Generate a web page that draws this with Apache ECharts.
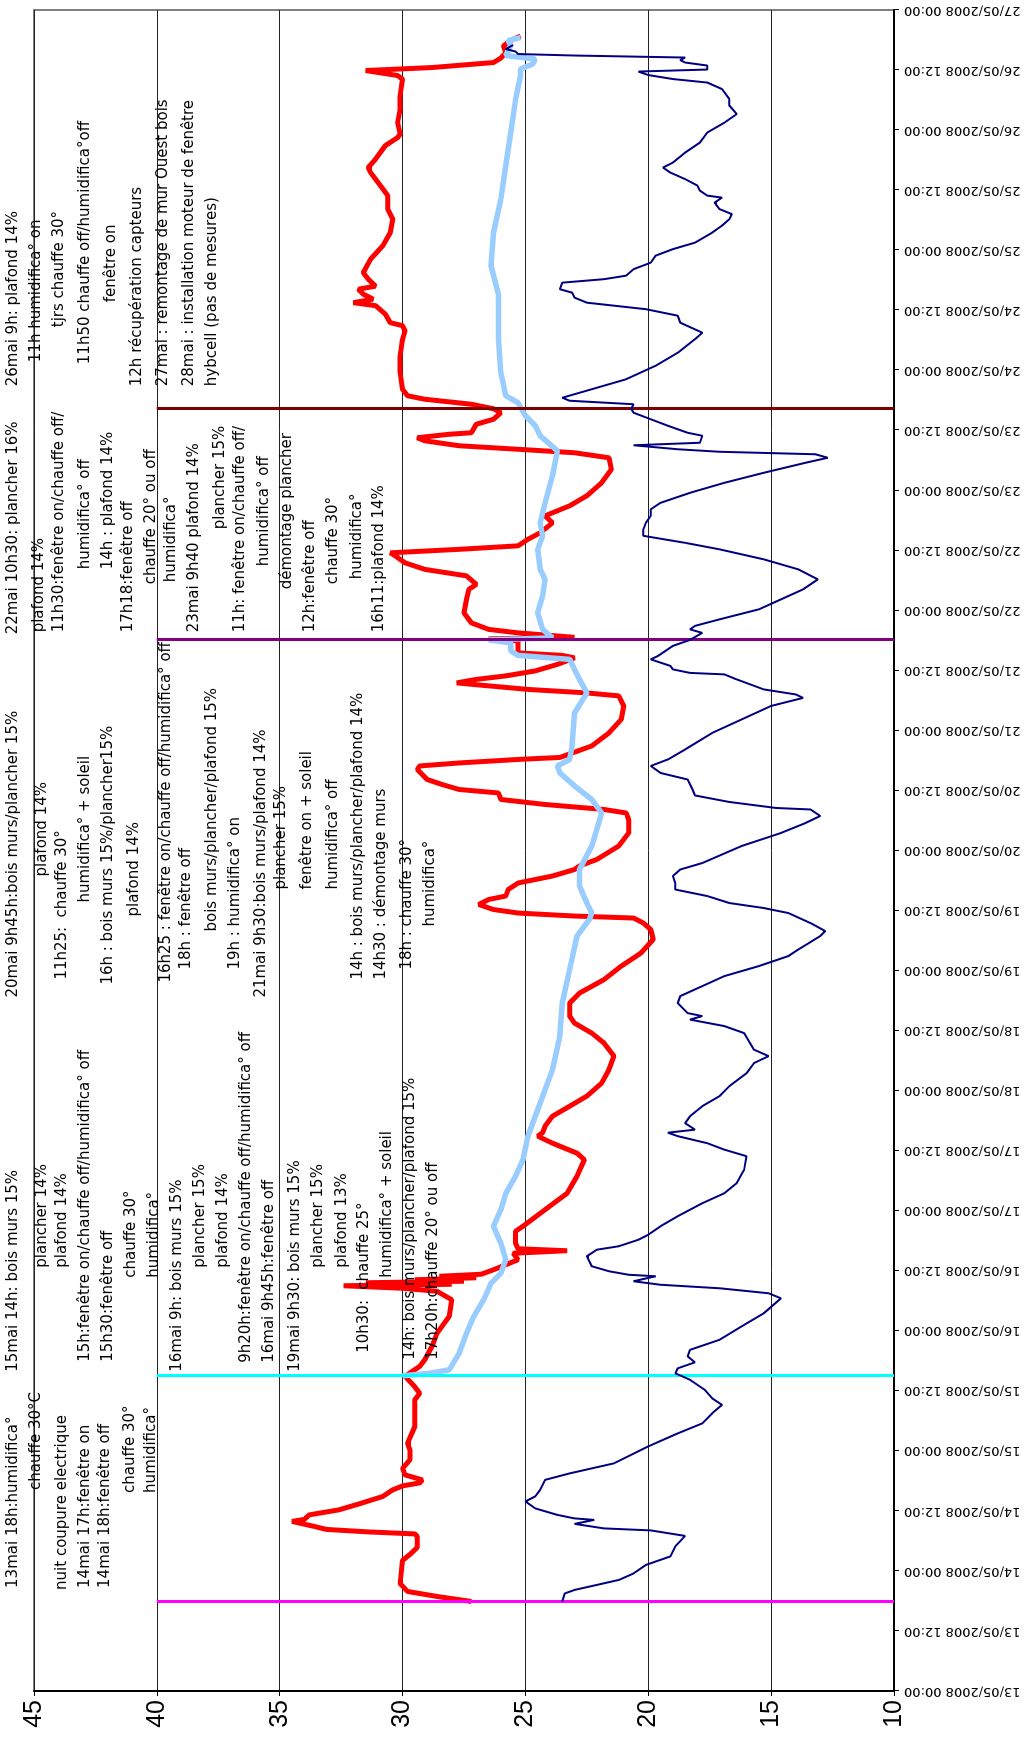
<!DOCTYPE html>
<html>
<head>
<meta charset="utf-8">
<script src="https://cdn.jsdelivr.net/npm/echarts/dist/echarts.min.js"></script>
<style>
  html, body { margin: 0; padding: 0; background: #fff; overflow: hidden; }
  body { width: 1025px; height: 1746px; position: relative; }
  /* the chart is drawn landscape, then turned a quarter turn like the original sheet */
  #box {
    position: absolute; left: 0; top: 0;
    width: 1746px; height: 1025px;
    transform-origin: 0 0;
    transform: translateY(1746px) rotate(-90deg);
  }
</style>
</head>
<body>
<div id="box"></div>
<script>
// hours counted from 13/05/2008 00:00
const tickHours = [0, 336, 12]            // min, max, step of the date axis
const valueTicks = [10, 45, 5]            // min, max, step of the value axis

// [hour, value]
const redLine = [[17.9,27.2],[18.9,28.6],[19.9,29.8],[21.5,30.1],[26.1,30.0],[27.3,29.7],[28.7,29.4],[30.9,29.4],[31.4,29.5],[31.8,31.4],[32.3,33.1],[32.9,33.6],[33.9,34.5],[34.3,34.0],[35.2,33.8],[36.2,32.6],[37.5,31.7],[38.9,30.8],[40.2,30.4],[41.0,30.0],[41.6,29.3],[42.2,29.2],[43.2,29.9],[44.5,30.0],[46.2,29.7],[48.2,29.7],[49.5,29.8],[52.9,29.5],[55.5,29.5],[58.2,29.5],[59.5,29.3],[60.8,29.5],[62.9,29.9],[64.9,29.3],[66.2,29.1],[68.9,28.8],[71.5,28.6],[74.9,28.1],[78.2,28.0],[79.9,28.6],[80.5,30.0],[81.0,32.4],[81.3,28.0],[81.6,31.5],[81.9,27.5],[82.2,29.5],[82.6,27.0],[82.9,28.5],[83.3,26.8],[84.2,26.3],[86.2,25.3],[87.5,25.5],[88.0,23.3],[88.4,25.3],[89.5,25.4],[91.9,25.4],[92.9,25.1],[96.2,24.2],[99.5,23.3],[102.9,22.9],[106.2,22.6],[107.5,22.9],[109.5,23.9],[110.9,24.5],[111.6,24.3],[112.9,24.2],[114.9,23.9],[116.9,23.2],[118.9,22.5],[121.5,21.9],[124.2,21.6],[126.9,21.4],[129.5,21.8],[131.5,22.3],[133.5,23.0],[134.9,23.2],[137.5,23.2],[139.5,22.8],[142.2,21.8],[144.9,21.1],[147.5,20.3],[150.2,19.8],[152.2,19.9],[153.5,20.2],[154.5,20.6],[154.9,23.0],[155.5,25.3],[156.2,26.3],[157.2,26.9],[158.2,26.5],[158.9,25.8],[160.2,25.7],[161.5,25.3],[162.9,23.9],[164.2,23.0],[164.9,22.8],[166.2,22.1],[168.9,21.2],[171.5,20.8],[174.2,20.8],[175.5,20.9],[176.2,21.8],[177.2,24.2],[178.2,26.0],[179.5,26.1],[180.2,27.7],[181.2,28.4],[182.2,29.0],[184.2,29.4],[184.9,29.3],[185.5,27.7],[186.2,25.3],[186.6,23.6],[188.9,22.3],[191.5,21.6],[194.2,21.1],[196.9,21.0],[198.9,21.2],[199.5,22.5],[200.2,24.9],[201.0,26.7],[201.5,27.8],[202.2,27.0],[202.9,25.8],[203.9,24.6],[205.2,23.7],[206.5,23.0],[207.0,23.5],[207.5,25.3],[209.9,25.3],[210.3,26.5],[210.6,23.0],[211.0,24.0],[211.5,25.3],[212.2,26.5],[213.5,27.2],[215.5,27.5],[218.2,27.4],[220.2,27.3],[221.2,27.0],[222.9,27.4],[224.2,29.1],[225.5,29.9],[226.9,30.3],[227.5,30.5],[228.2,27.7],[228.9,25.3],[230.2,24.9],[231.5,24.4],[233.5,23.9],[234.9,24.2],[236.9,23.2],[238.9,22.5],[241.5,21.9],[244.2,21.5],[246.5,21.6],[247.5,23.0],[248.2,25.3],[248.9,27.7],[249.9,29.1],[250.5,29.4],[251.2,28.1],[251.5,27.2],[253.2,27.0],[254.2,26.3],[255.5,26.0],[256.3,26.3],[257.2,27.2],[258.2,29.1],[258.9,29.8],[260.2,30.0],[263.5,30.1],[266.9,30.1],[270.2,30.0],[271.9,29.9],[272.9,30.0],[273.5,30.5],[275.2,30.7],[276.9,31.1],[277.5,32.0],[278.2,31.2],[279.2,31.6],[280.2,31.8],[280.8,31.1],[282.2,31.4],[283.5,31.6],[286.2,31.3],[288.9,30.8],[291.5,30.5],[294.2,30.4],[296.2,30.6],[298.9,30.6],[300.2,30.8],[302.2,31.1],[303.5,31.3],[304.5,31.4],[306.2,31.1],[308.9,30.7],[310.5,30.2],[311.2,30.1],[313.5,30.2],[316.2,30.1],[318.9,30.1],[322.2,30.0],[322.9,30.2],[323.9,31.5],[324.2,31.5],[324.5,28.8],[325.5,26.3],[326.4,26.0],[327.5,25.8],[328.8,25.9],[329.9,25.6],[330.8,25.2]]

const blueLine = [[63.0,30.0],[63.5,28.9],[64.2,28.1],[67.5,27.7],[71.5,27.4],[74.9,27.1],[78.2,26.7],[81.5,26.4],[83.5,26.0],[86.2,25.8],[89.5,26.0],[92.9,26.3],[96.2,26.0],[99.5,25.8],[102.9,25.4],[106.2,25.1],[110.9,24.9],[117.5,24.4],[124.2,23.9],[130.9,23.6],[137.5,23.5],[144.2,23.2],[150.9,22.9],[154.2,22.4],[155.5,22.3],[157.5,22.5],[160.9,22.8],[164.2,22.8],[168.9,22.3],[175.5,21.9],[178.2,22.3],[180.9,23.0],[183.5,23.6],[184.9,23.7],[186.2,23.2],[188.9,23.1],[195.5,23.0],[199.5,22.5],[202.2,22.8],[204.2,23.0],[206.2,23.2],[207.0,25.3],[207.9,25.6],[209.5,25.6],[210.1,26.5],[210.5,23.9],[212.2,24.3],[215.5,24.5],[218.9,24.3],[222.2,24.2],[224.2,24.4],[228.2,24.5],[230.9,24.3],[233.5,24.4],[237.5,24.2],[242.9,23.9],[247.9,23.7],[250.9,24.4],[252.9,24.6],[254.9,25.0],[257.5,25.3],[258.9,25.8],[263.5,26.0],[270.2,26.1],[279.2,26.1],[284.9,26.4],[291.5,26.3],[298.2,26.0],[304.9,25.8],[311.5,25.6],[318.2,25.4],[322.9,25.2],[324.2,25.2],[325.2,24.7],[326.2,24.6],[326.9,25.8],[328.9,25.6],[329.9,25.7],[330.5,25.2]]

const navyLine = [[17.9,23.5],[19.5,23.4],[20.2,23.0],[21.2,22.1],[22.2,21.2],[23.5,20.6],[25.2,20.1],[26.9,19.1],[28.9,18.9],[31.0,18.5],[32.1,19.9],[32.5,21.8],[33.4,23.0],[34.2,22.2],[34.5,23.0],[35.2,23.7],[36.5,24.6],[37.9,25.0],[38.9,24.6],[40.2,24.4],[42.2,24.2],[43.5,23.2],[45.5,21.4],[47.2,20.7],[48.9,20.0],[51.5,18.8],[53.5,17.8],[55.5,17.4],[57.2,17.0],[58.5,17.4],[60.2,17.7],[62.2,18.3],[63.5,18.9],[64.5,18.8],[65.7,18.1],[66.9,18.4],[68.2,18.3],[70.2,17.1],[72.9,16.2],[75.5,15.3],[78.5,14.6],[79.5,15.1],[80.5,17.1],[81.2,19.5],[81.9,20.6],[82.9,19.7],[83.2,20.8],[83.9,21.6],[84.9,22.3],[86.9,22.5],[88.2,22.1],[88.9,21.2],[90.2,20.4],[91.2,20.0],[92.9,19.5],[94.9,18.8],[97.5,17.8],[99.5,16.9],[101.5,16.4],[104.2,16.1],[106.9,16.0],[108.2,16.9],[109.5,17.6],[110.9,18.8],[111.6,19.2],[112.2,18.1],[113.5,18.5],[114.9,18.3],[116.9,17.8],[118.9,17.1],[120.9,16.7],[123.5,16.0],[125.5,15.7],[126.9,15.1],[128.2,15.7],[131.5,16.1],[132.9,16.9],[134.2,18.3],[134.9,17.8],[135.5,18.4],[137.5,18.8],[138.9,18.7],[140.9,17.8],[142.9,16.9],[144.9,15.5],[146.9,14.3],[148.2,13.9],[150.9,13.0],[151.9,12.8],[153.5,13.4],[155.5,14.3],[156.5,15.3],[157.5,16.7],[158.9,17.6],[160.2,18.9],[161.5,18.9],[162.9,19.0],[164.2,18.7],[165.5,17.8],[168.9,16.2],[171.5,14.6],[173.5,13.6],[174.9,13.0],[176.2,13.4],[176.5,14.8],[177.7,16.7],[179.0,18.1],[180.2,18.2],[182.2,18.4],[183.5,19.5],[184.9,19.9],[186.2,19.2],[188.2,18.5],[191.5,17.4],[194.2,16.2],[196.9,15.0],[198.5,13.7],[199.2,14.0],[200.2,15.3],[202.2,16.4],[203.2,16.9],[203.5,18.3],[204.2,19.0],[204.9,19.1],[206.2,19.9],[206.9,19.6],[208.9,19.0],[210.1,18.3],[211.5,17.8],[212.2,18.3],[212.9,18.1],[214.2,17.1],[216.2,15.5],[218.2,14.6],[220.2,13.7],[222.2,13.1],[224.2,13.9],[226.2,15.3],[228.2,17.1],[229.5,18.5],[230.9,20.2],[232.2,20.2],[233.5,20.1],[234.9,19.9],[236.2,19.9],[237.5,19.5],[239.5,18.3],[241.5,16.9],[243.5,15.3],[245.5,13.6],[246.5,12.7],[247.2,13.2],[247.7,17.1],[248.2,18.8],[249.0,20.6],[249.5,17.9],[250.9,17.8],[251.5,18.4],[252.9,19.2],[254.2,19.9],[255.5,20.6],[256.3,20.7],[257.2,20.6],[257.9,23.2],[258.5,23.5],[260.2,22.3],[262.2,20.9],[264.9,19.7],[267.5,18.8],[270.2,18.1],[271.5,17.8],[273.5,18.7],[274.9,18.8],[276.2,20.1],[277.5,22.5],[278.5,23.0],[279.5,23.1],[280.2,23.6],[281.5,23.5],[282.2,21.8],[282.9,20.9],[284.2,20.6],[285.5,19.9],[286.9,19.7],[288.2,19.0],[289.5,18.1],[291.5,17.4],[292.9,17.0],[294.2,16.7],[295.2,16.6],[296.2,17.1],[297.5,17.3],[298.5,17.0],[298.9,17.6],[299.9,17.9],[300.9,18.0],[302.2,18.5],[303.5,19.1],[304.5,19.4],[305.5,19.0],[307.5,18.5],[309.5,17.9],[311.5,17.6],[313.5,16.9],[315.2,16.4],[316.9,16.7],[318.2,16.7],[320.2,17.0],[321.5,17.6],[322.2,19.0],[323.0,20.0],[323.7,20.4],[324.1,17.6],[324.9,17.6],[325.5,18.5],[326.0,18.7],[326.5,18.5],[326.9,23.0],[327.2,25.3],[327.7,25.4],[328.2,25.8],[329.0,25.5]]

// event markers: hour and colour
const eventHours = [17.9, 63.0, 210.1, 256.3]
const eventColors = ['#ff00ff', '#00ffff', '#800080', '#800000']

// notes : [hour where the text starts, value at text centre, text]
const notes13mai = [
  [20.6, 45.83, '13mai 18h:humidifica°'],
  [40.2, 44.90, 'chauffe 30°C'],
  [20.2, 43.84, 'nuit coupure electrique'],
  [20.6, 42.90, '14mai 17h:fenêtre on'],
  [20.6, 42.09, '14mai 18h:fenêtre off'],
  [39.6, 41.07, 'chauffe 30°'],
  [39.6, 40.22, 'humidifica°']
]
const notes15mai = [
  [63.8, 45.83, '15mai 14h: bois murs 15%'],
  [84.6, 44.65, 'plancher 14%'],
  [84.6, 43.84, 'plafond 14%'],
  [65.8, 42.90, '15h:fenêtre on/chauffe off/humidifica° off'],
  [65.8, 41.97, '15h30:fenêtre off'],
  [82.6, 41.03, 'chauffe 30°'],
  [82.6, 40.10, 'humidifica°'],
  [63.8, 39.16, '16mai 9h: bois murs 15%'],
  [84.6, 38.22, 'plancher 15%'],
  [84.6, 37.29, 'plafond 14%'],
  [65.6, 36.35, '9h20h:fenêtre on/chauffe off/humidifica° off'],
  [65.6, 35.42, '16mai 9h45h:fenêtre off'],
  [63.8, 34.36, '19mai 9h30: bois murs 15%'],
  [84.6, 33.42, 'plancher 15%'],
  [84.6, 32.48, 'plafond 13%'],
  [67.6, 31.55, '10h30:'],
  [80.2, 31.55, 'chauffe 25°'],
  [82.6, 30.61, 'humidifica° + soleil'],
  [66.2, 29.68, '14h: bois murs/plancher/plafond 15%'],
  [66.2, 28.74, '17h20h:chauffe 20° ou off']
]
const notes20mai = [
  [138.6, 45.83, '20mai 9h45h:bois murs/plancher 15%'],
  [162.8, 44.65, 'plafond 14%'],
  [142.2, 43.84, '11h25:'],
  [154.6, 43.84, 'chauffe 30°'],
  [157.6, 42.90, 'humidifica° + soleil'],
  [141.2, 41.97, '16h : bois murs 15%/plancher15%'],
  [154.8, 40.91, 'plafond 14%'],
  [141.6, 39.61, '16h25 : fenêtre on/chauffe off/humidifica° off'],
  [144.2, 38.79, '18h : fenêtre off'],
  [151.8, 37.74, 'bois murs/plancher/plafond 15%'],
  [144.2, 36.80, '19h : humidifica° on'],
  [138.6, 35.74, '21mai 9h30:bois murs/plafond 14%'],
  [160.2, 34.93, 'plancher 15%'],
  [160.2, 33.87, 'fenêtre on + soleil'],
  [160.2, 32.81, 'humidifica° off'],
  [142.2, 31.79, '14h : bois murs/plancher/plafond 14%'],
  [142.2, 30.86, '14h30 : démontage murs'],
  [144.2, 29.80, '18h : chauffe 30°'],
  [152.8, 28.86, 'humidifica°']
]
const notes22mai = [
  [211.2, 45.83, '22mai 10h30: plancher 16%'],
  [211.6, 44.80, 'plafond 14%'],
  [211.6, 43.96, '11h30:fenêtre on/chauffe off/'],
  [224.2, 42.90, 'humidifica° off'],
  [224.2, 41.97, '14h : plafond 14%'],
  [211.6, 41.15, '17h18:fenêtre off'],
  [221.2, 40.22, 'chauffe 20° ou off'],
  [221.6, 39.40, 'humidifica°'],
  [211.6, 38.47, '23mai 9h40 plafond 14%'],
  [232.2, 37.41, 'plancher 15%'],
  [211.6, 36.60, '11h: fenêtre on/chauffe off/'],
  [224.8, 35.62, 'humidifica° off'],
  [220.2, 34.68, 'démontage plancher'],
  [211.6, 33.75, '12h:fenêtre off'],
  [221.2, 32.81, 'chauffe 30°'],
  [222.2, 31.87, 'humidifica°'],
  [211.6, 30.94, '16h11:plafond 14%']
]
const notes26mai = [
  [260.8, 45.83, '26mai 9h: plafond 14%'],
  [265.6, 44.90, '11h humidifica° on'],
  [272.6, 43.96, 'tjrs chauffe 30°'],
  [265.2, 42.90, '11h50 chauffe off/humidifica°off'],
  [277.6, 41.85, 'fenêtre on'],
  [260.8, 40.79, '12h récupération capteurs'],
  [260.8, 39.73, '27mai : remontage de mur Ouest bois'],
  [260.8, 38.67, '28mai : installation moteur de fenêtre'],
  [260.8, 37.74, 'hybcell (pas de mesures)']
]

const pad = n => (n < 10 ? '0' : '') + n
function dateLabel (h) {
  return pad(13 + Math.floor(h / 24)) + '/05/2008 ' + pad(h % 24) + ':00'
}

const myChart = echarts.init(document.getElementById('box'))

const options = {
  animation: false,
  backgroundColor: '#fff',
  grid: {
    left: 55, right: 10, top: 34, bottom: 131,
    containLabel: false,
    outerBoundsMode: 'none',
    show: true,
    borderColor: '#808080',
    borderWidth: 2,
    backgroundColor: '#fff'
  },
  xAxis: {
    type: 'value',
    min: tickHours[0], max: tickHours[1], interval: tickHours[2],
    axisLine: { show: true, onZero: false, lineStyle: { color: '#000', width: 2 } },
    axisTick: { show: true, length: 5, lineStyle: { color: '#000' } },
    axisLabel: {
      rotate: 90, margin: 10, color: '#000',
      fontFamily: 'DejaVu Sans', fontSize: 13,
      showMinLabel: true, showMaxLabel: true,
      formatter: dateLabel
    },
    splitLine: { show: false }
  },
  yAxis: {
    type: 'value',
    min: valueTicks[0], max: valueTicks[1], interval: valueTicks[2],
    axisLine: { show: true, lineStyle: { color: '#000', width: 2 } },
    axisTick: { show: true, length: 5, lineStyle: { color: '#000' } },
    axisLabel: { margin: 9, color: '#000', fontFamily: 'Liberation Sans', fontSize: 25 },
    splitLine: { show: true, lineStyle: { color: '#222', width: 1 } }
  },
  series: [
    {
      name: 'rouge', type: 'line', data: redLine, showSymbol: false, symbol: 'none',
      lineStyle: { color: '#ff0000', width: 5 }, z: 3
    },
    {
      name: 'bleu clair', type: 'line', data: blueLine, showSymbol: false, symbol: 'none',
      lineStyle: { color: '#99ccff', width: 5.5 }, z: 4
    },
    {
      name: 'bleu nuit', type: 'line', data: navyLine, showSymbol: false, symbol: 'none',
      lineStyle: { color: '#000080', width: 2 }, z: 5,
      markLine: {
        silent: true, symbol: 'none', label: { show: false },
        data: eventHours.map((h, i) => [
          { coord: [h, 10], lineStyle: { color: eventColors[i], width: 3, type: 'solid' } },
          { coord: [h, 40] }
        ])
      }
    }
  ]
}
myChart.setOption(options)

// the free text boxes, anchored on the axes
const allNotes = [].concat(notes13mai, notes15mai, notes20mai, notes22mai, notes26mai)
const textEls = allNotes.map(([h, v, txt]) => {
  const [px, py] = myChart.convertToPixel({ gridIndex: 0 }, [h, v])
  return {
    type: 'text', x: px, y: py, z: 100, silent: true,
    style: {
      text: txt, fill: '#000', fontSize: 15, fontFamily: 'DejaVu Sans',
      align: 'left', verticalAlign: 'middle'
    }
  }
})
myChart.setOption({ graphic: textEls })
</script>
</body>
</html>
